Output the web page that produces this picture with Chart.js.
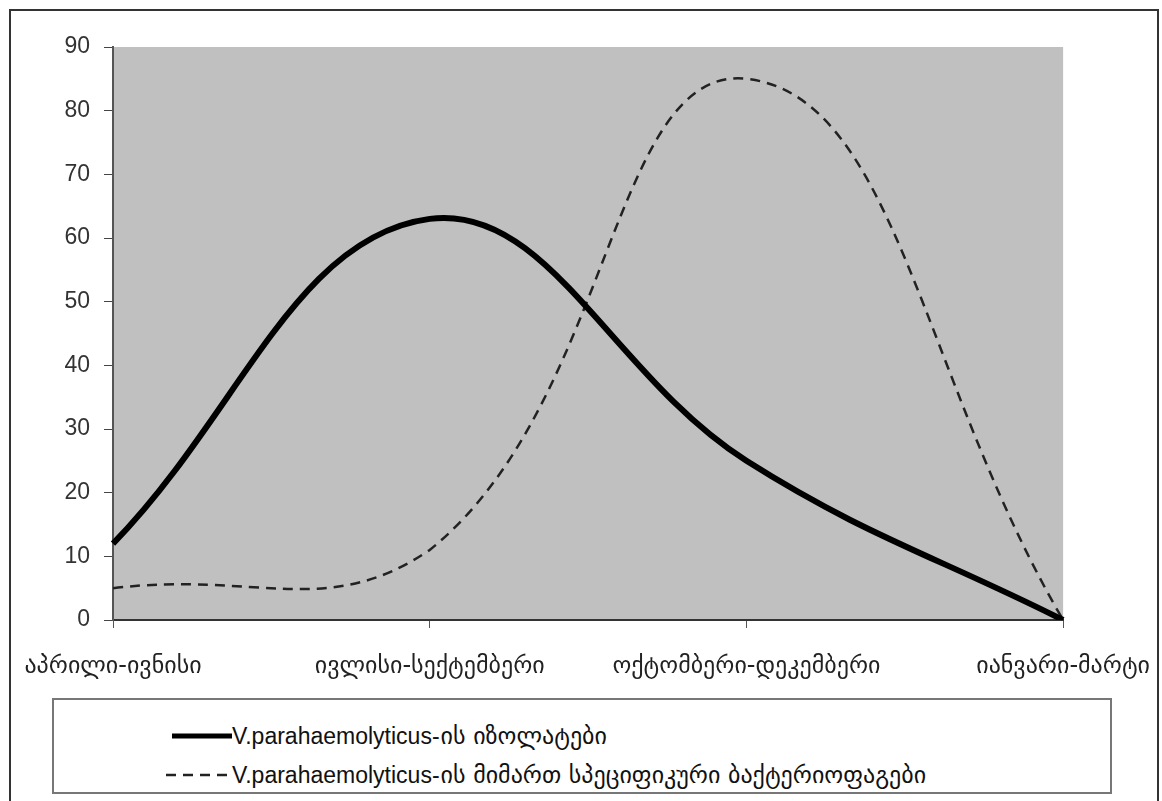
<!DOCTYPE html>
<html>
<head>
<meta charset="utf-8">
<script src="https://cdn.jsdelivr.net/npm/chart.js@4"></script>
<style>
  html, body { margin: 0; padding: 0; background: #fff; }
  body { width: 1162px; height: 801px; position: relative; overflow: hidden; }
  #frame { position: absolute; left: 9px; top: 9px; width: 1150px; height: 800px; border: 2px solid #333; border-bottom: none; box-sizing: border-box; z-index: 2; pointer-events: none; }
  #wrap { position: absolute; left: 0; top: 0; width: 1174px; height: 690px; }
  #legend { position: absolute; left: 52px; top: 698px; width: 1060px; height: 96px; border: 2px solid #777; box-sizing: border-box; background: #fff; }
  .item { position: absolute; left: 112px; height: 36px; display: flex; align-items: center; font-family: "Liberation Sans Narrow", "Liberation Sans", Arial, sans-serif; font-size: 23px; color: #111; white-space: nowrap; }
  .geo { font-family: "DejaVu Sans", sans-serif; font-size: 24px; margin-left: 1px; }
</style>
</head>
<body>
<div id="frame"></div>
<div id="wrap"><canvas id="c"></canvas></div>
<div id="legend">
  <div class="item" style="top:18px;"><svg width="66" height="10"><line x1="6" y1="5" x2="66" y2="5" stroke="#000" stroke-width="5"/></svg><span>V.parahaemolyticus-</span><span class="geo">ის იზოლატები</span></div>
  <div class="item" style="top:57px;"><svg width="66" height="10"><line x1="0" y1="5" x2="66" y2="5" stroke="#222" stroke-width="2.5" stroke-dasharray="10,7"/></svg><span>V.parahaemolyticus-</span><span class="geo">ის მიმართ სპეციფიკური ბაქტერიოფაგები</span></div>
</div>
<script>
const categories = ["აპრილი-ივნისი", "ივლისი-სექტემბერი", "ოქტომბერი-დეკემბერი", "იანვარი-მარტი"];
const isolates = [12, 63, 25, 0];
const phages = [5, 11, 85, 0];
const seriesNames = ["V.parahaemolyticus-ის იზოლატები", "V.parahaemolyticus-ის მიმართ სპეციფიკური ბაქტერიოფაგები"];
const yTicks = { min: 0, max: 90, step: 10 };

const plotBg = {
  id: 'plotBg',
  beforeDraw(chart) {
    const { ctx, chartArea: a } = chart;
    ctx.save();
    ctx.fillStyle = '#c0c0c0';
    ctx.fillRect(a.left, a.top, a.right - a.left, a.bottom - a.top);
    ctx.restore();
  }
};

new Chart(document.getElementById('c'), {
  type: 'line',
  data: {
    labels: categories,
    datasets: [
      { label: seriesNames[0], data: isolates, borderColor: '#000', borderWidth: 6, tension: 0.4, pointRadius: 0, fill: false },
      { label: seriesNames[1], data: phages, borderColor: '#222', borderWidth: 2.5, borderDash: [10, 7], tension: 0.45, pointRadius: 0, fill: false }
    ]
  },
  options: {
    responsive: true,
    maintainAspectRatio: false,
    animation: false,
    layout: { padding: { left: 0, right: 88, top: 47, bottom: 0 } },
    plugins: { legend: { display: false }, tooltip: { enabled: false } },
    scales: {
      x: {
        offset: false,
        grid: { display: true, drawOnChartArea: false, drawTicks: true, tickLength: 8, color: '#555', offset: false },
        border: { display: true, color: '#333', width: 2 },
        ticks: { color: '#222', font: { family: 'DejaVu Sans', size: 24 }, padding: 24, maxRotation: 0, autoSkip: false },
        afterFit(s) { s.height = 70; }
      },
      y: {
        min: yTicks.min, max: yTicks.max,
        grid: { display: true, drawOnChartArea: false, drawTicks: true, tickLength: 9, color: '#444' },
        border: { display: true, color: '#555', width: 2 },
        ticks: { stepSize: yTicks.step, color: '#333', font: { family: 'Liberation Sans', size: 23 }, padding: 14 },
        afterFit(s) { s.width = 113; }
      }
    }
  },
  plugins: [plotBg]
});
</script>
</body>
</html>
